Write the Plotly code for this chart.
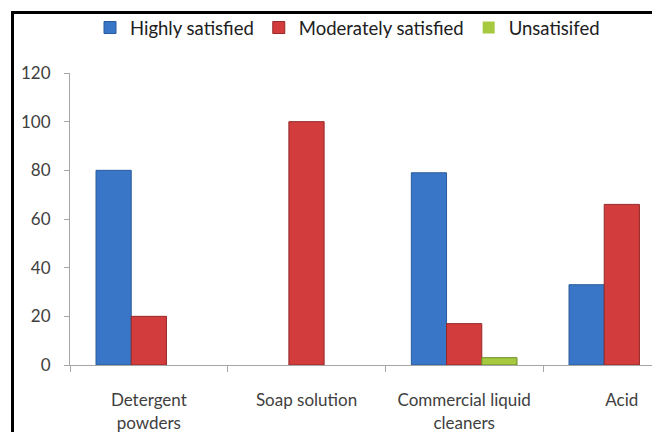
import plotly.graph_objects as go

categories = ["Detergent<br>powders", "Soap solution", "Commercial liquid<br>cleaners", "Acid"]
highly = [80, 0, 79, 33]
moderately = [20, 100, 17, 66]
unsatisfied = [0, 0, 3, 0]
series_names = ["Highly satisfied", "Moderately satisfied", "Unsatisifed"]
y_ticks = [0, 20, 40, 60, 80, 100, 120]

W, H = 652, 432
L, R, T, B = 70, 0, 73, 67
pw, ph = W - L - R, H - T - B

def px_to_paper_x(px):
    return (px - L) / pw

def px_to_paper_y(py):
    return (H - B - py) / ph

fig = go.Figure()
colors = ["#3a76c8", "#d23c3c", "#a6c940"]
lines = ["#2a5a9c", "#952828", "#6d8a24"]
for name, vals, c, lc in zip(series_names, [highly, moderately, unsatisfied], colors, lines):
    fig.add_trace(go.Bar(
        x=categories, y=vals, name=name,
        marker=dict(color=c, line=dict(color=lc, width=[1 if v > 0 else 0 for v in vals])),
    ))

FAM = "Lato, Carlito, Calibri, sans-serif"
tickfont = dict(family=FAM, size=17, color="#404040")

fig.update_layout(
    width=W, height=H,
    margin=dict(l=L, r=R, t=T, b=B),
    paper_bgcolor="white", plot_bgcolor="white",
    barmode="group", bargap=0.33, bargroupgap=0,
    font=tickfont,
    showlegend=True,
    legend=dict(
        orientation="h",
        x=px_to_paper_x(90), xanchor="left",
        y=px_to_paper_y(28), yanchor="middle",
        font=dict(family=FAM, size=18.5, color="#202020"),
        itemwidth=30, traceorder="normal",
        bgcolor="rgba(0,0,0,0)",
    ),
    xaxis=dict(
        range=[-0.5, -0.5 + pw / ((543 - 70) / 3)],
        showgrid=False, zeroline=False,
        showline=True, linecolor="#a6a6a6", linewidth=1,
        ticks="outside", tickson="boundaries", ticklen=6, tickcolor="#a6a6a6",
        ticklabelstandoff=20,
        tickfont=tickfont,
        fixedrange=True,
    ),
    yaxis=dict(
        range=[0, 120], tickvals=y_ticks,
        showgrid=False, zeroline=False,
        showline=True, linecolor="#a6a6a6", linewidth=1,
        ticks="outside", ticklen=5, tickcolor="#a6a6a6",
        tickfont=tickfont, ticklabelstandoff=10,
        fixedrange=True,
    ),
)

# outer border (chart frame, cropped on right and bottom)
bx = px_to_paper_x(12.5)
by = px_to_paper_y(12.5)
fig.add_shape(type="line", xref="paper", yref="paper",
              x0=bx, x1=bx, y0=by + 0.005, y1=px_to_paper_y(440),
              line=dict(color="black", width=3))
fig.add_shape(type="line", xref="paper", yref="paper",
              x0=bx, x1=px_to_paper_x(660), y0=by, y1=by,
              line=dict(color="black", width=3))

fig.write_html("out.html")
